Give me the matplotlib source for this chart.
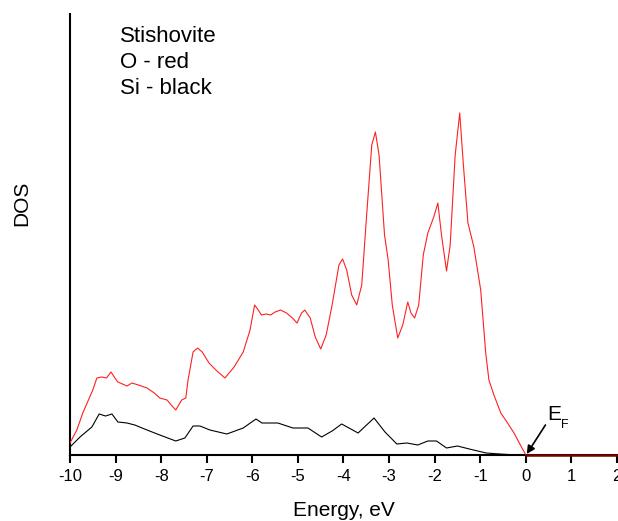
import matplotlib
matplotlib.use("Agg")
import matplotlib.pyplot as plt

plt.rcParams['font.family'] = ['Liberation Sans', 'DejaVu Sans']

# O (red) partial DOS
o_energy = [-10.0, -9.85, -9.72, -9.5, -9.41, -9.3, -9.2, -9.1, -9.0, -8.95, -8.75,
            -8.64, -8.5, -8.31, -8.15, -8.03, -7.87, -7.78, -7.68, -7.55, -7.46, -7.41,
            -7.3, -7.2, -7.1, -6.95, -6.8, -6.6, -6.4, -6.2, -6.05, -5.95, -5.87, -5.8,
            -5.7, -5.6, -5.5, -5.38, -5.25, -5.12, -5.02, -4.92, -4.85, -4.73, -4.62,
            -4.5, -4.38, -4.25, -4.1, -4.02, -3.93, -3.82, -3.71, -3.6, -3.5, -3.38,
            -3.30, -3.22, -3.1, -3.02, -2.93, -2.81, -2.7, -2.59, -2.52, -2.44, -2.35,
            -2.25, -2.15, -2.02, -1.93, -1.85, -1.74, -1.66, -1.55, -1.45, -1.37, -1.27,
            -1.14, -0.99, -0.88, -0.81, -0.7, -0.55, -0.4, -0.26, -0.12, 0.0, 2.0]
o_dos = [12, 25, 42, 65, 77, 78, 77, 83, 76, 73, 69,
         72, 70, 67, 62, 57, 55, 50, 45, 55, 57, 75,
         103, 107, 103, 92, 85, 77, 88, 103, 125, 150, 145, 140,
         141, 140, 143, 145, 142, 137, 132, 142, 145, 137, 118,
         106, 120, 150, 190, 196, 185, 160, 150, 170, 235, 310,
         323, 300, 220, 195, 150, 117, 130, 153, 142, 137, 150,
         200, 222, 238, 252, 220, 184, 210, 300, 342, 290, 232,
         208, 165, 102, 75, 60, 42, 32, 22, 10, 0, 0]

# Si (black) partial DOS
si_energy = [-10.0, -9.78, -9.52, -9.36, -9.22, -9.08, -8.95, -8.75, -8.58, -8.31,
             -8.03, -7.68, -7.48, -7.3, -7.15, -6.93, -6.56, -6.2, -5.92, -5.79,
             -5.6, -5.44, -5.11, -4.96, -4.78, -4.48, -4.25, -4.04, -3.68, -3.33,
             -3.09, -2.83, -2.61, -2.37, -2.15, -1.96, -1.74, -1.5, -1.24, -0.87,
             -0.57, -0.3, 0.0]
si_dos = [8, 18, 28, 41, 39, 41, 33, 32, 30, 25,
          20, 14, 17, 29, 29, 25, 21, 27, 36, 32,
          32, 32, 27, 27, 27, 18, 24, 31, 22, 37,
          23, 11, 12, 10, 14, 14, 7, 9, 6, 2,
          1, 0.3, 0]

x_ticks = [-10, -9, -8, -7, -6, -5, -4, -3, -2, -1, 0, 1, 2]
x_tick_labels = ['-10', '-9', '-8', '-7', '-6', '-5', '-4', '-3', '-2', '-1', '0', '1', '2']

fig = plt.figure(figsize=(6.18, 5.21), dpi=100)
ax = fig.add_axes([70/618, 66/521, 547/618, 441/521])

ax.plot(si_energy, si_dos, color='black', lw=0.8, zorder=3)
neg_e = [e for e in o_energy if e <= 0]
neg_d = o_dos[:len(neg_e)]
pos_e = [e for e in o_energy if e >= 0]
pos_d = o_dos[len(o_energy) - len(pos_e):]
ax.plot(neg_e, neg_d, color='#ff2020', lw=0.8, zorder=4)
ax.plot(pos_e, pos_d, color='#7a0000', lw=1.8, zorder=4, clip_on=False)

ax.set_xlim(-10, 2)
ax.set_ylim(0, 441)
ax.set_xticks(x_ticks)
ax.set_xticklabels(x_tick_labels, fontsize=12)
ax.set_yticks([])
for s in ['top', 'right']:
    ax.spines[s].set_visible(False)
for s in ['left', 'bottom']:
    ax.spines[s].set_linewidth(1.5)
ax.tick_params(axis='x', direction='out', length=6, width=1.5, pad=4)

fig.text(344/618, 1 - 510/521, 'Energy, eV', fontsize=15, ha='center', va='center')
fig.text(22/618, 1 - 203/521, 'DOS', rotation=90, fontsize=15, ha='center', va='center')

for label, ypx in [('Stishovite', 36), ('O - red', 62), ('Si - black', 88)]:
    fig.text(120/618, 1 - ypx/521, label, fontsize=16, va='center', ha='left')

ax.annotate('', xy=(0.02, 1), xytext=(0.43, 30),
            arrowprops=dict(arrowstyle='-|>', color='black', lw=1.2, mutation_scale=12,
                            shrinkA=0, shrinkB=0))
fig.text(547/618, 1 - 420/521, 'E', fontsize=15, ha='left', va='baseline')
fig.text(561/618, 1 - 428/521, 'F', fontsize=9, ha='left', va='baseline')

fig.savefig('out.png', dpi=100)
